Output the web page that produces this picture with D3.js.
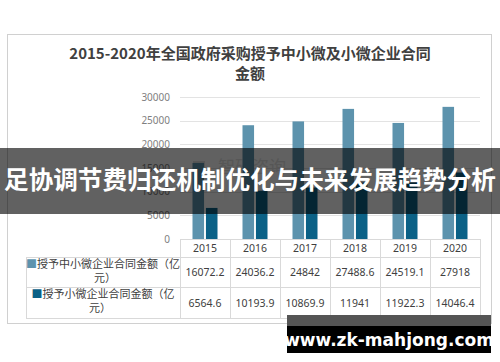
<!DOCTYPE html>
<html>
<head>
<meta charset="utf-8">
<script src="https://cdn.jsdelivr.net/npm/d3@7"></script>
<style>
  html, body { margin: 0; padding: 0; background: #fff; }
  svg { display: block; font-family: "Noto Sans CJK SC", "Noto Sans", sans-serif; }
</style>
</head>
<body>
<div id="chart"></div>
<script>
// chart data
const years = ["2015", "2016", "2017", "2018", "2019", "2020"];
const seriesNames = ["授予中小微企业合同金额（亿元）", "授予小微企业合同金额（亿元）"];
const smallMicro = [16072.2, 24036.2, 24842, 27488.6, 24519.1, 27918];
const microOnly = [6564.6, 10193.9, 10869.9, 11941, 11922.3, 14046.4];
const yTicks = [0, 5000, 10000, 15000, 20000, 25000, 30000];
const titleLines = ["2015-2020年全国政府采购授予中小微及小微企业合同", "金额"];
const bannerText = "足协调节费归还机制优化与未来发展趋势分析";
const siteText = "www.zk-mahjong.com";

const colors = ["#5d93ad", "#0b6186"];
const W = 500, H = 362;

const svg = d3.select("#chart").append("svg")
    .attr("width", W)
    .attr("height", H);

svg.append("rect").attr("width", W).attr("height", H).attr("fill", "#fff");

// outer chart frame
svg.append("rect")
    .attr("x", 7.5).attr("y", 34.5)
    .attr("width", 484).attr("height", 289)
    .attr("fill", "#fff")
    .attr("stroke", "#d0d0d0");

// title
svg.append("g").selectAll("text")
    .data(titleLines)
    .join("text")
    .attr("x", 250)
    .attr("y", (d, i) => 59 + i * 20)
    .attr("text-anchor", "middle")
    .attr("font-size", 15)
    .attr("font-weight", "bold")
    .attr("fill", "#404040")
    .text(d => d);

// scales
const x = d3.scaleBand().domain(years).range([180, 480]);
const xSub = d3.scaleBand().domain([0, 1]).range([-12.5, 12.5]).paddingInner(0.14);
const y = d3.scaleLinear().domain([0, 30000]).range([239, 97]);

// gridlines
svg.append("g").selectAll("line")
    .data(yTicks.slice(1))
    .join("line")
    .attr("x1", 180).attr("x2", 480)
    .attr("y1", d => Math.round(y(d)) + 0.5)
    .attr("y2", d => Math.round(y(d)) + 0.5)
    .attr("stroke", "#e3e3e3");

// y axis labels (no axis line)
const yAxis = d3.axisLeft(y).tickValues(yTicks).tickFormat(d3.format("d")).tickSize(0).tickPadding(0);
const yG = svg.append("g").attr("transform", "translate(170,0)").call(yAxis);
yG.select(".domain").remove();
yG.selectAll("text")
    .attr("font-size", 10)
    .attr("fill", "#7f7f7f")
    .attr("font-family", "\"Noto Sans\", sans-serif");

// faint source watermark in the plot
const wm = svg.append("g").attr("fill", "#e2e2e2");
wm.append("rect").attr("x", 193).attr("y", 161).attr("width", 12).attr("height", 12);
wm.append("text").attr("x", 218).attr("y", 173)
    .attr("font-size", 17).text("智研咨询");

// bars
const series = [smallMicro, microOnly];
const barG = svg.append("g");
series.forEach((vals, si) => {
    barG.append("g").selectAll("rect")
        .data(vals)
        .join("rect")
        .attr("x", (d, i) => x(years[i]) + x.bandwidth() / 2 + xSub(si))
        .attr("width", xSub.bandwidth())
        .attr("y", d => y(d))
        .attr("height", d => y(0) - y(d))
        .attr("fill", colors[si]);
});

// data table
const table = svg.append("g").attr("stroke", "#d9d9d9").attr("fill", "none");
const rowY = [239, 257, 287, 318];
table.append("line").attr("x1", 180).attr("x2", 480).attr("y1", rowY[0] + 0.5).attr("y2", rowY[0] + 0.5);
rowY.slice(1).forEach(ry => {
    table.append("line").attr("x1", 26).attr("x2", 480).attr("y1", ry + 0.5).attr("y2", ry + 0.5);
});
table.append("line").attr("x1", 26.5).attr("x2", 26.5).attr("y1", rowY[1]).attr("y2", rowY[3]);
years.forEach(yr => {
    table.append("line")
        .attr("x1", Math.round(x(yr)) + 0.5).attr("x2", Math.round(x(yr)) + 0.5)
        .attr("y1", rowY[0]).attr("y2", rowY[3]);
});
table.append("line").attr("x1", 480.5).attr("x2", 480.5).attr("y1", rowY[0]).attr("y2", rowY[3]);

// header years
svg.append("g").selectAll("text")
    .data(years)
    .join("text")
    .attr("x", d => x(d) + x.bandwidth() / 2)
    .attr("y", 252)
    .attr("text-anchor", "middle")
    .attr("font-size", 10.5)
    .attr("fill", "#404040")
    .attr("font-family", "\"Noto Sans\", sans-serif")
    .text(d => d);

// row values
series.forEach((vals, si) => {
    svg.append("g").selectAll("text")
        .data(vals)
        .join("text")
        .attr("x", (d, i) => x(years[i]) + x.bandwidth() / 2)
        .attr("y", si === 0 ? 276 : 307)
        .attr("text-anchor", "middle")
        .attr("font-size", 10.5)
        .attr("fill", "#404040")
        .attr("font-family", "\"Noto Sans\", sans-serif")
        .text(d => d);
});

// row labels with legend squares
const labelRows = [
    { top: 257, first: "授予中小微企业合同金额（亿", second: "元）" },
    { top: 287, first: "授予小微企业合同金额（亿", second: "元）" }
];
labelRows.forEach((r, si) => {
    const g = svg.append("g");
    const line1 = g.append("text")
        .attr("x", 103)
        .attr("y", r.top + 11)
        .attr("text-anchor", "middle")
        .attr("font-size", 11)
        .attr("fill", "#404040");
    line1.append("tspan").attr("fill", colors[si]).text("■");
    line1.append("tspan").text(r.first);
    g.append("text")
        .attr("x", si === 0 ? 105 : 100)
        .attr("y", r.top + 25)
        .attr("text-anchor", "middle")
        .attr("font-size", 11)
        .attr("fill", "#404040")
        .text(r.second);
});

// dark banner with headline
svg.append("rect")
    .attr("x", 0).attr("y", 148)
    .attr("width", W).attr("height", 66)
    .attr("fill", "#000")
    .attr("fill-opacity", 0.62);
svg.append("text")
    .attr("x", 250).attr("y", 189)
    .attr("text-anchor", "middle")
    .attr("font-size", 24.6)
    .attr("font-weight", "bold")
    .attr("fill", "#fff")
    .text(bannerText);

// site badge bottom right
svg.append("rect")
    .attr("x", 287).attr("y", 315)
    .attr("width", 204).attr("height", 12)
    .attr("fill", "#555");
svg.append("rect")
    .attr("x", 287).attr("y", 326)
    .attr("width", 204).attr("height", 27)
    .attr("fill", "#000");
svg.append("text")
    .attr("x", 389).attr("y", 346)
    .attr("text-anchor", "middle")
    .attr("font-size", 17)
    .attr("font-weight", "bold")
    .attr("fill", "#fff")
    .attr("font-family", "\"DejaVu Sans\", sans-serif")
    .text(siteText);
</script>
</body>
</html>
